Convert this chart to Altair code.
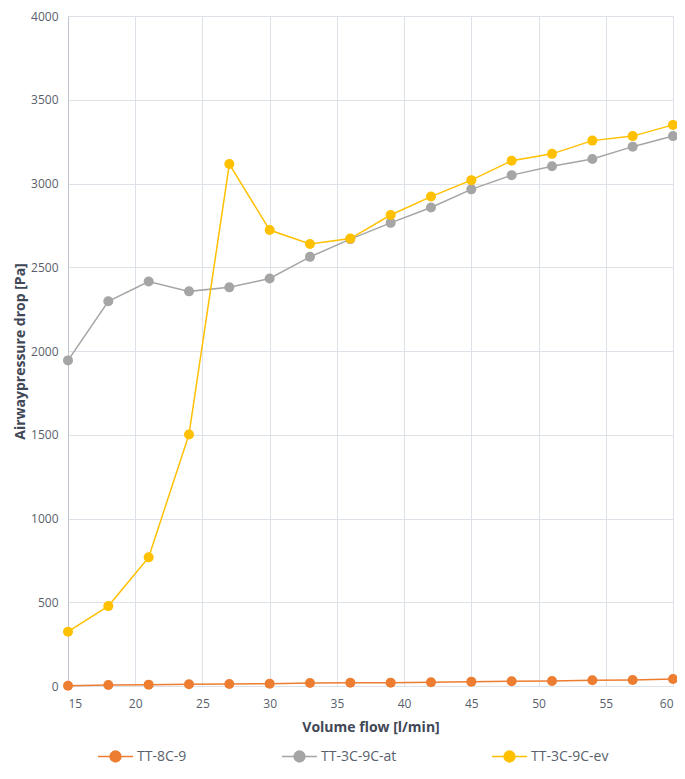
import altair as alt
import pandas as pd

flow = [15, 18, 21, 24, 27, 30, 33, 36, 39, 42, 45, 48, 51, 54, 57, 60]
tt_8c_9 = [2, 6, 8, 10, 12, 14, 18, 19, 20, 22, 26, 28, 30, 34, 36, 42]
tt_3c_9c_at = [1944, 2297, 2415, 2356, 2380, 2433, 2562, 2668, 2765, 2857, 2965, 3050, 3103, 3146, 3220, 3283]
tt_3c_9c_ev = [324, 477, 768, 1502, 3116, 2722, 2639, 2671, 2812, 2922, 3020, 3136, 3177, 3256, 3283, 3350]

series_names = ["TT-8C-9", "TT-3C-9C-at", "TT-3C-9C-ev"]
series_colors = ["#ED7D31", "#A5A5A5", "#FFC000"]
x_ticks = [15, 20, 25, 30, 35, 40, 45, 50, 55, 60]
y_ticks = [0, 500, 1000, 1500, 2000, 2500, 3000, 3500, 4000]

rows = []
for name, vals in zip(series_names, [tt_8c_9, tt_3c_9c_at, tt_3c_9c_ev]):
    for f, v in zip(flow, vals):
        rows.append({"flow": f, "value": v, "series": name})
df = pd.DataFrame(rows)

FONT = "Open Sans"
LABEL_C = "#595f6c"
TITLE_C = "#404756"
GRID_C = "#DDE1E8"

sym_path = "M-1,0H1M-0.31,0A0.31,0.31 0 1,1 0.31,0A0.31,0.31 0 1,1 -0.31,0Z"

color = alt.Color(
    "series:N",
    scale=alt.Scale(domain=series_names, range=series_colors),
    legend=alt.Legend(
        title=None,
        orient="none",
        direction="horizontal",
        legendX=29,
        legendY=722,
        padding=0,
        symbolType=sym_path,
        symbolSize=1225,
        symbolStrokeWidth=1.5,
        symbolOpacity=1,
        labelFont=FONT,
        labelFontSize=14,
        labelColor=LABEL_C,
        labelOffset=3,
        columnPadding=92,
        gridAlign="none",
        labelLimit=200,
    ),
)

x = alt.X(
    "flow:Q",
    scale=alt.Scale(domain=[15, 60], nice=False, zero=False),
    axis=alt.Axis(
        title="Volume flow [l/min]",
        values=x_ticks,
        format="d",
        ticks=False,
        labelPadding=12,
        titlePadding=11,
        domainColor=GRID_C,
        gridColor=GRID_C,
    ),
)
y = alt.Y(
    "value:Q",
    scale=alt.Scale(domain=[0, 4000], nice=False),
    axis=alt.Axis(
        title="Airwaypressure drop [Pa]",
        values=y_ticks,
        format="d",
        ticks=False,
        labelPadding=10,
        titlePadding=3,
        domainColor="#BEC4CE",
        gridColor=GRID_C,
    ),
)

layers = []
for name in series_names:
    layers.append(
        alt.Chart(df)
        .transform_filter(alt.datum.series == name)
        .mark_line(
            strokeWidth=1.5,
            point=alt.OverlayMarkDef(filled=True, size=100, opacity=1),
        )
        .encode(x=x, y=y, color=color)
    )

chart = (
    alt.layer(*layers)
    .properties(
        width=605,
        height=670,
        autosize=alt.AutoSizeParams(type="none"),
        padding={"left": 60, "top": 8, "right": 4, "bottom": 82},
    )
    .configure_view(stroke=None)
    .configure_axis(
        labelFont=FONT,
        labelFontSize=12,
        labelColor=LABEL_C,
        titleFont=FONT,
        titleFontSize=14,
        titleFontWeight="bold",
        titleColor=TITLE_C,
        gridWidth=1,
        domainWidth=1,
    )
)

chart.save("out.html", embed_options={"renderer": "svg", "actions": False})
